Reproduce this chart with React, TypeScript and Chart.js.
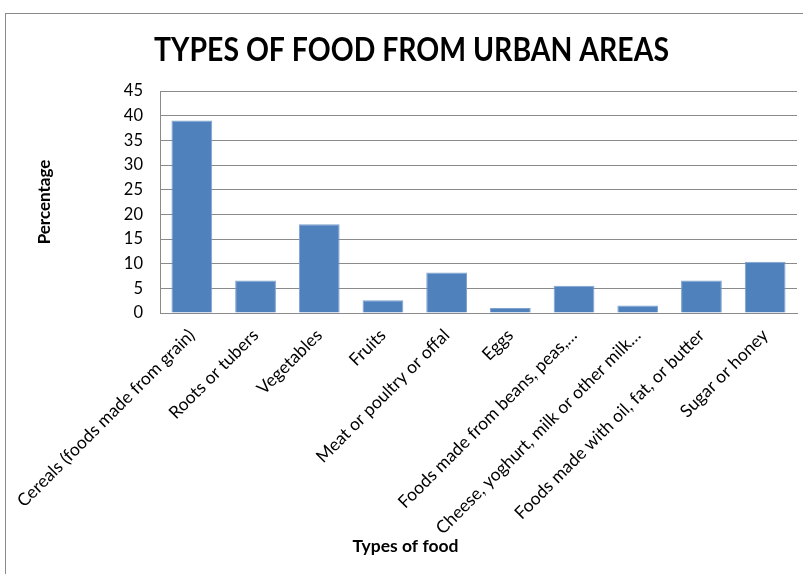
import React, { useEffect, useRef } from "react";
import { Chart, registerables } from "chart.js";

Chart.register(...registerables);

const categories: string[] = [
  "Cereals (foods made from grain)",
  "Roots or tubers",
  "Vegetables",
  "Fruits",
  "Meat or poultry or offal",
  "Eggs",
  "Foods made from beans, peas,…",
  "Cheese, yoghurt, milk or other milk…",
  "Foods made with oil, fat, or butter",
  "Sugar or honey",
];

const percentages: number[] = [39, 6.6, 18, 2.6, 8.2, 1, 5.5, 1.5, 6.6, 10.4];

const yTicks = { min: 0, max: 45, step: 5 };

const titleText = "TYPES OF FOOD FROM URBAN AREAS";
const yTitle = "Percentage";
const xTitle = "Types of food";

const FONT = "Lato, 'Open Sans', sans-serif";

const framePlugin = {
  id: "frame",
  beforeDraw(chart: any) {
    const ctx = chart.ctx;
    ctx.save();
    ctx.fillStyle = "#ffffff";
    ctx.fillRect(0, 0, chart.width, chart.height);
    ctx.strokeStyle = "#8a8a8a";
    ctx.lineWidth = 1;
    ctx.strokeRect(5.5, 13.5, chart.width + 20, chart.height + 20);
    ctx.restore();
  },
  afterDraw(chart: any) {
    const ctx = chart.ctx;
    ctx.save();
    ctx.fillStyle = "#000000";
    ctx.font = `bold 32px ${FONT}`;
    ctx.textAlign = "center";
    ctx.textBaseline = "alphabetic";
    const w = ctx.measureText(titleText).width;
    const sx = Math.min(1, 515 / w);
    ctx.save();
    ctx.translate(411.5, 61);
    ctx.scale(sx, 1);
    ctx.fillText(titleText, 0, 0);
    ctx.restore();
    ctx.font = `bold 17.5px ${FONT}`;
    ctx.textBaseline = "middle";
    ctx.fillText(xTitle, 405.5, 546);
    ctx.save();
    ctx.translate(45, 202);
    ctx.rotate(-Math.PI / 2);
    ctx.font = `bold 17px ${FONT}`;
    ctx.fillText(yTitle, 0, 0);
    ctx.restore();
    ctx.restore();
  },
};

export default function App() {
  const ref = useRef<HTMLCanvasElement | null>(null);

  useEffect(() => {
    if (!ref.current) return;
    const chart = new Chart(ref.current, {
      type: "bar",
      data: {
        labels: categories,
        datasets: [
          {
            data: percentages,
            backgroundColor: "#4F81BD",
            borderColor: "#7EA2CE",
            borderWidth: 1,
            barPercentage: 0.64,
            categoryPercentage: 1,
          },
        ],
      },
      plugins: [framePlugin],
      options: {
        responsive: false,
        animation: false,
        layout: { padding: { top: 91, right: 6, bottom: 0, left: 0 } },
        plugins: {
          legend: { display: false },
          title: { display: false },
          tooltip: { enabled: false },
        },
        scales: {
          x: {
            grid: { display: false, drawTicks: false },
            border: { display: true, color: "#8a8a8a", width: 1 },
            ticks: {
              autoSkip: false,
              minRotation: 45,
              maxRotation: 45,
              padding: 12,
              color: "#000000",
              font: { family: FONT, size: 17.5 },
            },
            afterFit(scale: any) {
              scale.height = 261;
            },
          },
          y: {
            min: yTicks.min,
            max: yTicks.max,
            grid: { color: "#8a8a8a", drawTicks: false },
            border: { display: true, color: "#8a8a8a", width: 1 },
            ticks: {
              stepSize: yTicks.step,
              padding: 17,
              color: "#000000",
              font: { family: FONT, size: 16.5 },
            },
            afterFit(scale: any) {
              scale.width = 160;
            },
          },
        },
      },
    });
    return () => chart.destroy();
  }, []);

  return (
    <div style={{ position: "absolute", left: 0, top: 0, width: 803, height: 574 }}>
      <canvas ref={ref} width={803} height={574} style={{ display: "block" }} />
    </div>
  );
}
